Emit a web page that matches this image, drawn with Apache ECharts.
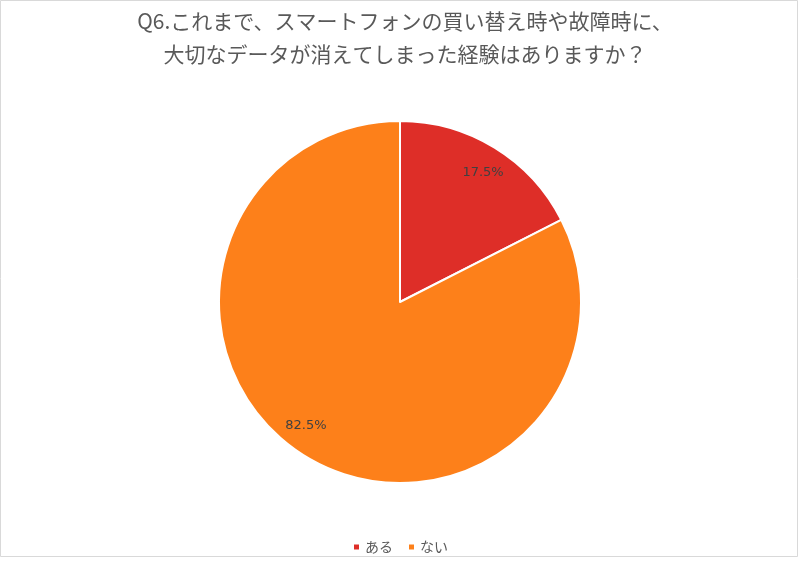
<!DOCTYPE html>
<html><head><meta charset="utf-8">
<script src="https://cdn.jsdelivr.net/npm/echarts@6/dist/echarts.min.js"></script>
<style>html,body{margin:0;padding:0;background:#fff}#c{width:800px;height:573px}</style>
</head><body><div id="c"></div>
<script>
const categories = ['ある', 'ない'];
const values = [17.5, 82.5];
const colors = ['#DE2E28', '#FD801A'];
const titleText = 'Q6.これまで、スマートフォンの買い替え時や故障時に、\n大切なデータが消えてしまった経験はありますか？';

const data = categories.map((n, i) => ({ name: n, value: values[i], itemStyle: { color: colors[i] } }));
const chart = echarts.init(document.getElementById('c'), null, { renderer: 'canvas' });
const font = '"Noto Sans CJK JP", "Noto Sans", sans-serif';
const labelShift = [[1, 4], [-12, -10]];
chart.setOption({
  animation: false,
  backgroundColor: '#fff',
  graphic: [{
    type: 'rect', shape: { x: 0.5, y: 0.5, width: 797, height: 556 },
    style: { fill: 'none', stroke: '#D9D9D9', lineWidth: 1 }, silent: true
  }],
  title: {
    text: titleText, left: 400, top: 0, textAlign: 'center',
    textStyle: { fontFamily: font, fontSize: 21, fontWeight: 'normal', color: '#595959', lineHeight: 33 }
  },
  legend: {
    data: categories, bottom: 14, left: 'center', icon: 'rect', itemWidth: 7, itemHeight: 7, itemGap: 14,
    textStyle: { fontFamily: font, fontSize: 14, color: '#595959' }
  },
  series: [{
    type: 'pie', center: [400, 302], radius: [0, 181], startAngle: 90, clockwise: true,
    data: data,
    itemStyle: { borderColor: '#fff', borderWidth: 2 },
    label: { show: false }, labelLine: { show: false }, silent: true
  }, {
    type: 'pie', center: [400, 302], radius: [127, 181], startAngle: 90, clockwise: true,
    data: categories.map((n, i) => ({ name: n, value: values[i], itemStyle: { color: 'rgba(0,0,0,0)' } })),
    label: { show: true, position: 'inside', formatter: p => p.value.toFixed(1) + '%',
      fontFamily: '"DejaVu Sans", sans-serif', fontSize: 13, color: '#404040' },
    labelLayout: p => ({ dx: labelShift[p.dataIndex][0], dy: labelShift[p.dataIndex][1] }),
    labelLine: { show: false }, silent: true, legendHoverLink: false
  }]
});
</script></body></html>
